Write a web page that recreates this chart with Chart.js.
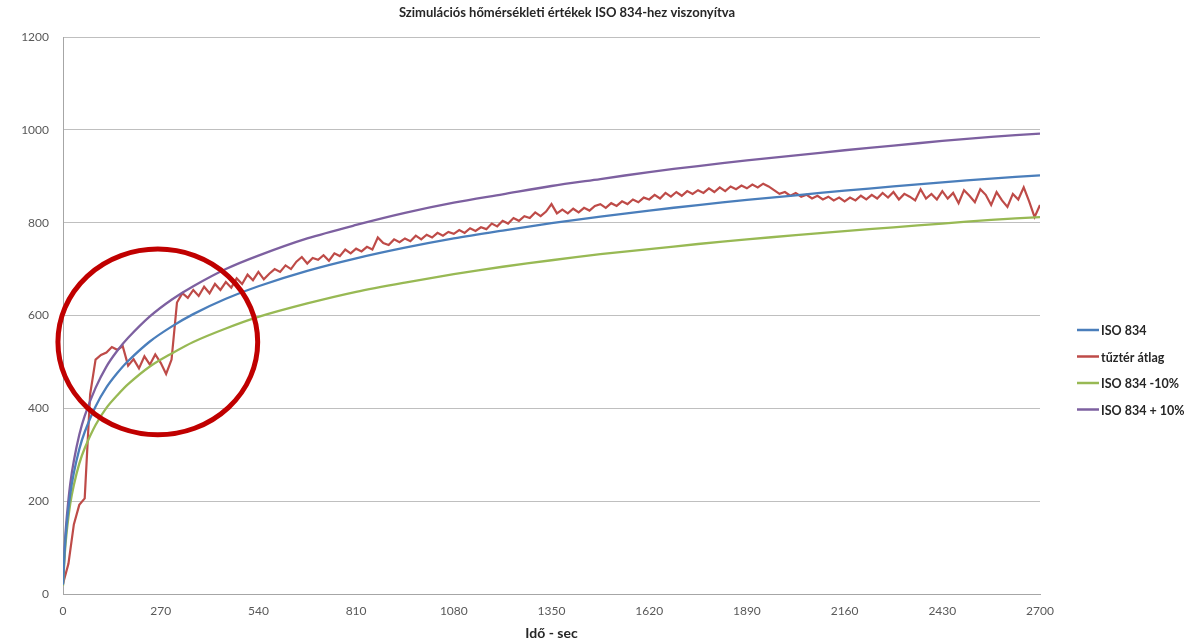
<!DOCTYPE html>
<html>
<head>
<meta charset="utf-8">
<script src="https://cdn.jsdelivr.net/npm/chart.js@4"></script>
<style>
  html, body { margin: 0; padding: 0; background: #fff; }
  #wrap { width: 1196px; height: 642px; position: relative; }
</style>
</head>
<body>
<div id="wrap"><canvas id="tempChart" width="1196" height="642"></canvas></div>
<script>
// Időpontok (sec) az ISO görbékhez
const isoTimes = [0, 5, 10, 20, 30, 45, 60, 90, 120, 150, 180, 240, 300, 360, 450, 540, 675, 810, 945, 1080, 1215, 1350, 1485, 1620, 1755, 1890, 2025, 2160, 2295, 2430, 2565, 2700];
const iso834 = [20, 97, 147, 215, 261, 312, 349, 404, 445, 476, 502, 544, 576, 603, 636, 663, 696, 723, 746, 766, 783, 799, 813, 826, 838, 849, 859, 869, 878, 887, 895, 902];
const isoMinus10 = [18, 87, 132, 194, 235, 281, 314, 364, 401, 428, 452, 490, 518, 543, 572, 597, 626, 651, 671, 689, 705, 719, 732, 743, 754, 764, 773, 782, 790, 798, 806, 812];
const isoPlus10 = [22, 107, 162, 237, 287, 343, 384, 444, 490, 524, 552, 598, 634, 663, 700, 729, 766, 795, 821, 843, 861, 879, 894, 909, 922, 934, 945, 956, 966, 976, 985, 992];

// Tűztér átlag, 15 sec-enként (0 ... 2700)
const fireStep = 15;
const fireAvg = [
  22, 65, 150, 192, 206, 430, 505, 515, 520, 532, 526, 534, 492, 506, 486, 512, 494, 516,
  498, 474, 505, 628, 648, 638, 655, 642, 662, 648, 668, 655, 672, 660, 680, 668, 688, 676,
  694, 678, 690, 700, 694, 708, 700, 716, 726, 712, 724, 720, 730, 718, 734, 728, 742, 734,
  744, 738, 748, 742, 768, 756, 752, 764, 758, 766, 760, 772, 764, 774, 768, 778, 772, 780,
  776, 784, 778, 788, 782, 790, 786, 798, 792, 804, 798, 810, 804, 814, 810, 822, 814, 824,
  840, 820, 828, 820, 830, 822, 832, 826, 836, 840, 832, 842, 836, 846, 840, 850, 844, 854,
  850, 860, 852, 864, 856, 866, 858, 868, 862, 870, 864, 874, 866, 876, 868, 878, 872, 880,
  874, 882, 876, 884, 878, 870, 862, 866, 858, 864, 856, 860, 852, 858, 850, 856, 848, 854,
  846, 854, 848, 858, 850, 860, 852, 864, 854, 866, 850, 862, 856, 848, 872, 852, 862, 850,
  868, 852, 864, 842, 870, 858, 844, 872, 860, 838, 866, 848, 834, 862, 850, 876, 846, 812, 838
];

const xTicks = [0, 270, 540, 810, 1080, 1350, 1620, 1890, 2160, 2430, 2700];
const yTicks = [0, 200, 400, 600, 800, 1000, 1200];

const seriesNames = ['ISO 834', 'tűztér átlag', 'ISO 834 -10%', 'ISO 834 + 10%'];
const seriesColors = ['#4a7ebb', '#be4b48', '#98b954', '#7d60a0'];

// Kiemelő kör (adat koordinátákban)
const highlight = { t: 262, temp: 543, rt: 276, rtemp: 200 };

const FONT = 'Lato, "Open Sans", sans-serif';

function toPoints(times, values) {
    return values.map((v, i) => ({ x: times[i], y: v }));
}
const firePoints = fireAvg.map((v, i) => ({ x: i * fireStep, y: v }));

const overlayPlugin = {
    id: 'overlay',
    afterDatasetsDraw(chart) {
        const ctx = chart.ctx;
        const xs = chart.scales.x, ys = chart.scales.y;
        const cx = xs.getPixelForValue(highlight.t);
        const cy = ys.getPixelForValue(highlight.temp);
        const rx = xs.getPixelForValue(highlight.t + highlight.rt) - cx;
        const ry = cy - ys.getPixelForValue(highlight.temp + highlight.rtemp);
        ctx.save();
        ctx.strokeStyle = '#c00000';
        ctx.lineWidth = 5;
        ctx.beginPath();
        ctx.ellipse(cx, cy, rx, ry, 0, 0, Math.PI * 2);
        ctx.stroke();
        ctx.restore();
    },
    afterDraw(chart) {
        const ctx = chart.ctx;
        ctx.save();
        // cím
        ctx.fillStyle = '#262626';
        ctx.font = 'bold 13px ' + FONT;
        ctx.textAlign = 'center';
        ctx.textBaseline = 'middle';
        ctx.fillText('Szimulációs hőmérsékleti értékek ISO 834-hez viszonyítva', 567, 13);
        // jelmagyarázat
        ctx.font = 'bold 12.5px ' + FONT;
        ctx.textAlign = 'left';
        seriesNames.forEach((name, i) => {
            const y = 330 + i * 26.5;
            ctx.strokeStyle = seriesColors[i];
            ctx.lineWidth = 2.5;
            ctx.beginPath();
            ctx.moveTo(1077, y);
            ctx.lineTo(1099, y);
            ctx.stroke();
            ctx.fillStyle = '#262626';
            ctx.fillText(name, 1101, y + 1);
        });
        ctx.restore();
    }
};

function lineSet(label, data, color) {
    return {
        label: label,
        data: data,
        borderColor: color,
        backgroundColor: color,
        borderWidth: 2.3,
        pointRadius: 0,
        tension: 0.3,
        fill: false
    };
}

new Chart(document.getElementById('tempChart').getContext('2d'), {
    type: 'line',
    data: {
        datasets: [
            lineSet(seriesNames[0], toPoints(isoTimes, iso834), seriesColors[0]),
            lineSet(seriesNames[2], toPoints(isoTimes, isoMinus10), seriesColors[2]),
            lineSet(seriesNames[3], toPoints(isoTimes, isoPlus10), seriesColors[3]),
            Object.assign(lineSet(seriesNames[1], firePoints, seriesColors[1]), { tension: 0, borderWidth: 2.2 })
        ]
    },
    options: {
        responsive: false,
        animation: false,
        layout: { padding: { left: 0, right: 156, top: 37, bottom: 0 } },
        plugins: {
            legend: { display: false },
            title: { display: false },
            tooltip: { enabled: false }
        },
        scales: {
            x: {
                type: 'linear',
                min: 0,
                max: 2700,
                afterBuildTicks: (scale) => { scale.ticks = xTicks.map(v => ({ value: v })); },
                afterFit: (scale) => { scale.height = 48; },
                grid: { display: false, drawTicks: false },
                border: { display: true, color: '#a6a6a6', width: 1 },
                ticks: {
                    color: '#595959',
                    font: { family: FONT, size: 12 },
                    padding: 10,
                    maxRotation: 0,
                    callback: (v) => String(v)
                },
                title: {
                    display: true,
                    text: 'Idő - sec',
                    color: '#262626',
                    font: { family: FONT, size: 14, weight: 'bold' },
                    padding: { top: 2, bottom: 0 }
                }
            },
            y: {
                min: 0,
                max: 1200,
                afterBuildTicks: (scale) => { scale.ticks = yTicks.map(v => ({ value: v })); },
                afterFit: (scale) => { scale.width = 63; },
                grid: { color: '#bfbfbf', lineWidth: 1, drawTicks: false },
                border: { display: true, color: '#a6a6a6', width: 1 },
                ticks: {
                    color: '#595959',
                    font: { family: FONT, size: 12 },
                    padding: 14,
                    callback: (v) => String(v)
                }
            }
        }
    },
    plugins: [overlayPlugin]
});
</script>
</body>
</html>
